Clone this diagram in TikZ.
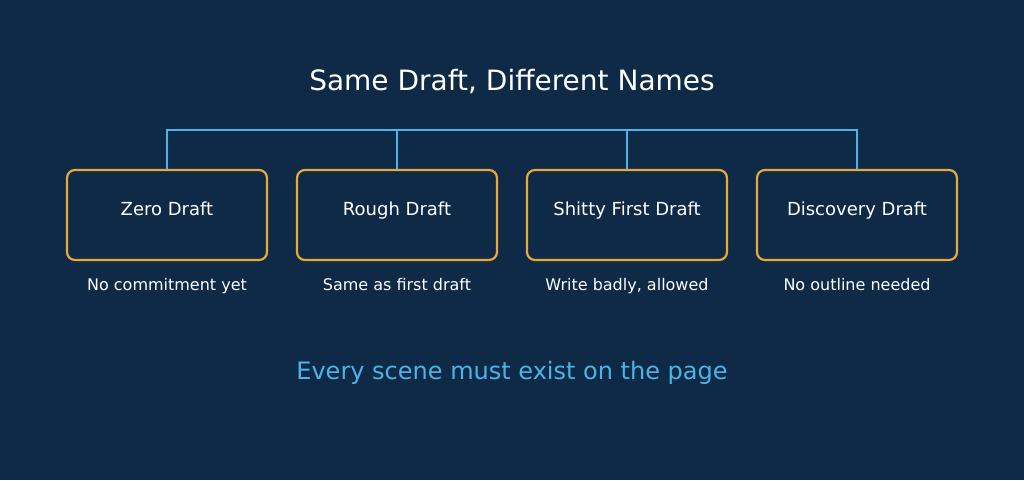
\documentclass[tikz,border=0pt]{standalone}
\usepackage{fontspec}
\setmainfont{DejaVu Sans}
\definecolor{bg}{HTML}{0F2A47}
\definecolor{bus}{HTML}{4DB3E6}
\definecolor{frame}{HTML}{E8A93C}
\begin{document}
\begin{tikzpicture}[x=1pt,y=-1pt,
  stagebox/.style={draw=frame,line width=2.2pt,rounded corners=8pt,minimum width=200pt,minimum height=90pt,inner sep=0pt},
  stagetext/.style={text=white,font=\fontsize{18}{21}\selectfont,inner sep=0pt},
  sublabel/.style={text=white,font=\fontsize{16}{19}\selectfont,inner sep=0pt},
  wire/.style={draw=bus,line width=2.2pt}]
\fill[bg] (0,0) rectangle (1024,480);
\useasboundingbox (0,0) rectangle (1024,480);
\node[text=white,font=\fontsize{28}{33}\selectfont,inner sep=0pt] (title) at (512,81) {Same Draft, Different Names};
\foreach \i/\x/\t/\s in {1/167/Zero Draft/No commitment yet,2/397/Rough Draft/Same as first draft,3/627/Shitty First Draft/{Write badly, allowed},4/857/Discovery Draft/No outline needed}{
  \node[stagebox] (b\i) at (\x,215) {};
  \node[stagetext,text height=13pt,text depth=4pt] (t\i) at (\x,210.5) {\t};
  \node[sublabel,text height=11.5pt,text depth=3.5pt] (s\i) at (\x,286.5) {\s};
  \coordinate (j\i) at (\x,130);
}
\draw[wire] (b1.north) -- (j1) -- (j4) -- (b4.north);
\draw[wire] (b2.north) -- (j2);
\draw[wire] (b3.north) -- (j3);
\node[text=bus,font=\fontsize{24}{28}\selectfont,inner sep=0pt] (foot) at (512,373) {Every scene must exist on the page};
\end{tikzpicture}
\end{document}
